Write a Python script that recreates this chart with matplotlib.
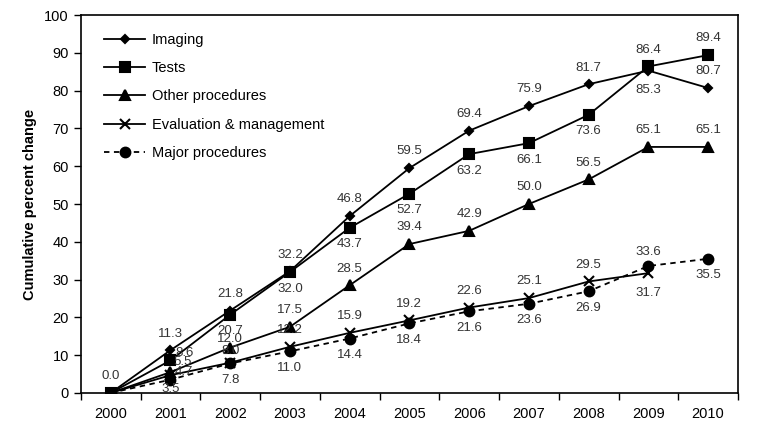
import matplotlib
matplotlib.use("Agg")
import matplotlib.pyplot as plt

plt.rcParams['font.family'] = ['Liberation Sans', 'DejaVu Sans']

years = ['2000', '2001', '2002', '2003', '2004', '2005',
         '2006', '2007', '2008', '2009', '2010']

imaging = [0.0, 11.3, 21.8, 32.2, 46.8, 59.5, 69.4, 75.9, 81.7, 85.3, 80.7]
tests = [0.0, 8.6, 20.7, 32.0, 43.7, 52.7, 63.2, 66.1, 73.6, 86.4, 89.4]
other_proc = [0.0, 5.5, 12.0, 17.5, 28.5, 39.4, 42.9, 50.0, 56.5, 65.1, 65.1]
eval_mgmt = [0.0, 4.7, 8.0, 12.2, 15.9, 19.2, 22.6, 25.1, 29.5, 31.7]
major_proc = [0.0, 3.5, 7.8, 11.0, 14.4, 18.4, 21.6, 23.6, 26.9, 33.6, 35.5]

# label offsets in points, None = no label
U, D, R = (0, 12), (0, -12), (10, 5)
imaging_pos = [U, U, U, U, U, U, U, U, U, (0, -14), U]
tests_pos = [None, R, D, D, D, D, D, D, D, U, U]
other_pos = [None, (9, 7), (0, 6), U, U, U, U, U, U, U, U]
em_pos = [None, (10, 2), (0, 8.5), U, U, U, U, U, U, (0, -14)]
major_pos = [None, (0, -7), D, D, D, D, D, D, D, (0, 10), D]

fig = plt.figure(figsize=(7.62, 4.43), dpi=100)
ax = fig.add_axes([0.106, 0.113, 0.8625, 0.853])

x = list(range(len(years)))
series = [
    ('Imaging', imaging, 'D', 4.2, '-', imaging_pos),
    ('Tests', tests, 's', 7, '-', tests_pos),
    ('Other procedures', other_proc, '^', 7, '-', other_pos),
    ('Evaluation & management', eval_mgmt, 'x', 6.5, '-', em_pos),
    ('Major procedures', major_proc, 'o', 7, (0, (3, 2.5)), major_pos),
]

for name, vals, mk, ms, ls, pos in series:
    xs = x[:len(vals)]
    ax.plot(xs, vals, color='black', lw=1.3, ls=ls, marker=mk, ms=ms,
            mew=1.5, label=name)
    for xi, v, p in zip(xs, vals, pos):
        if p is None:
            continue
        ax.annotate(f'{v:.1f}', (xi, v), xytext=p, textcoords='offset points',
                    ha='center', va='center', fontsize=9.5, color='#333333')

ax.set_xlim(-0.5, 10.5)
ax.set_ylim(0, 100)
ax.set_yticks(range(0, 101, 10))
ax.set_xticks(x)
ax.set_xticklabels(years)
ax.set_xticks([i - 0.5 for i in range(12)], minor=True)
ax.tick_params(axis='x', which='major', length=0, pad=10, labelsize=10.5)
ax.tick_params(axis='x', which='minor', length=5, direction='out', width=1)
ax.tick_params(axis='y', length=5, direction='out', labelsize=10.5, width=1)
for s in ax.spines.values():
    s.set_linewidth(1.2)

ax.set_ylabel('Cumulative percent change', fontsize=10.5, fontweight='bold',
              labelpad=5)

ax.legend(loc='upper left', frameon=False, fontsize=10.5, handlelength=2.8,
          handletextpad=0.45, labelspacing=0.98, borderaxespad=0.3,
          bbox_to_anchor=(0.02, 0.98))

fig.savefig('out.png', dpi=100)
